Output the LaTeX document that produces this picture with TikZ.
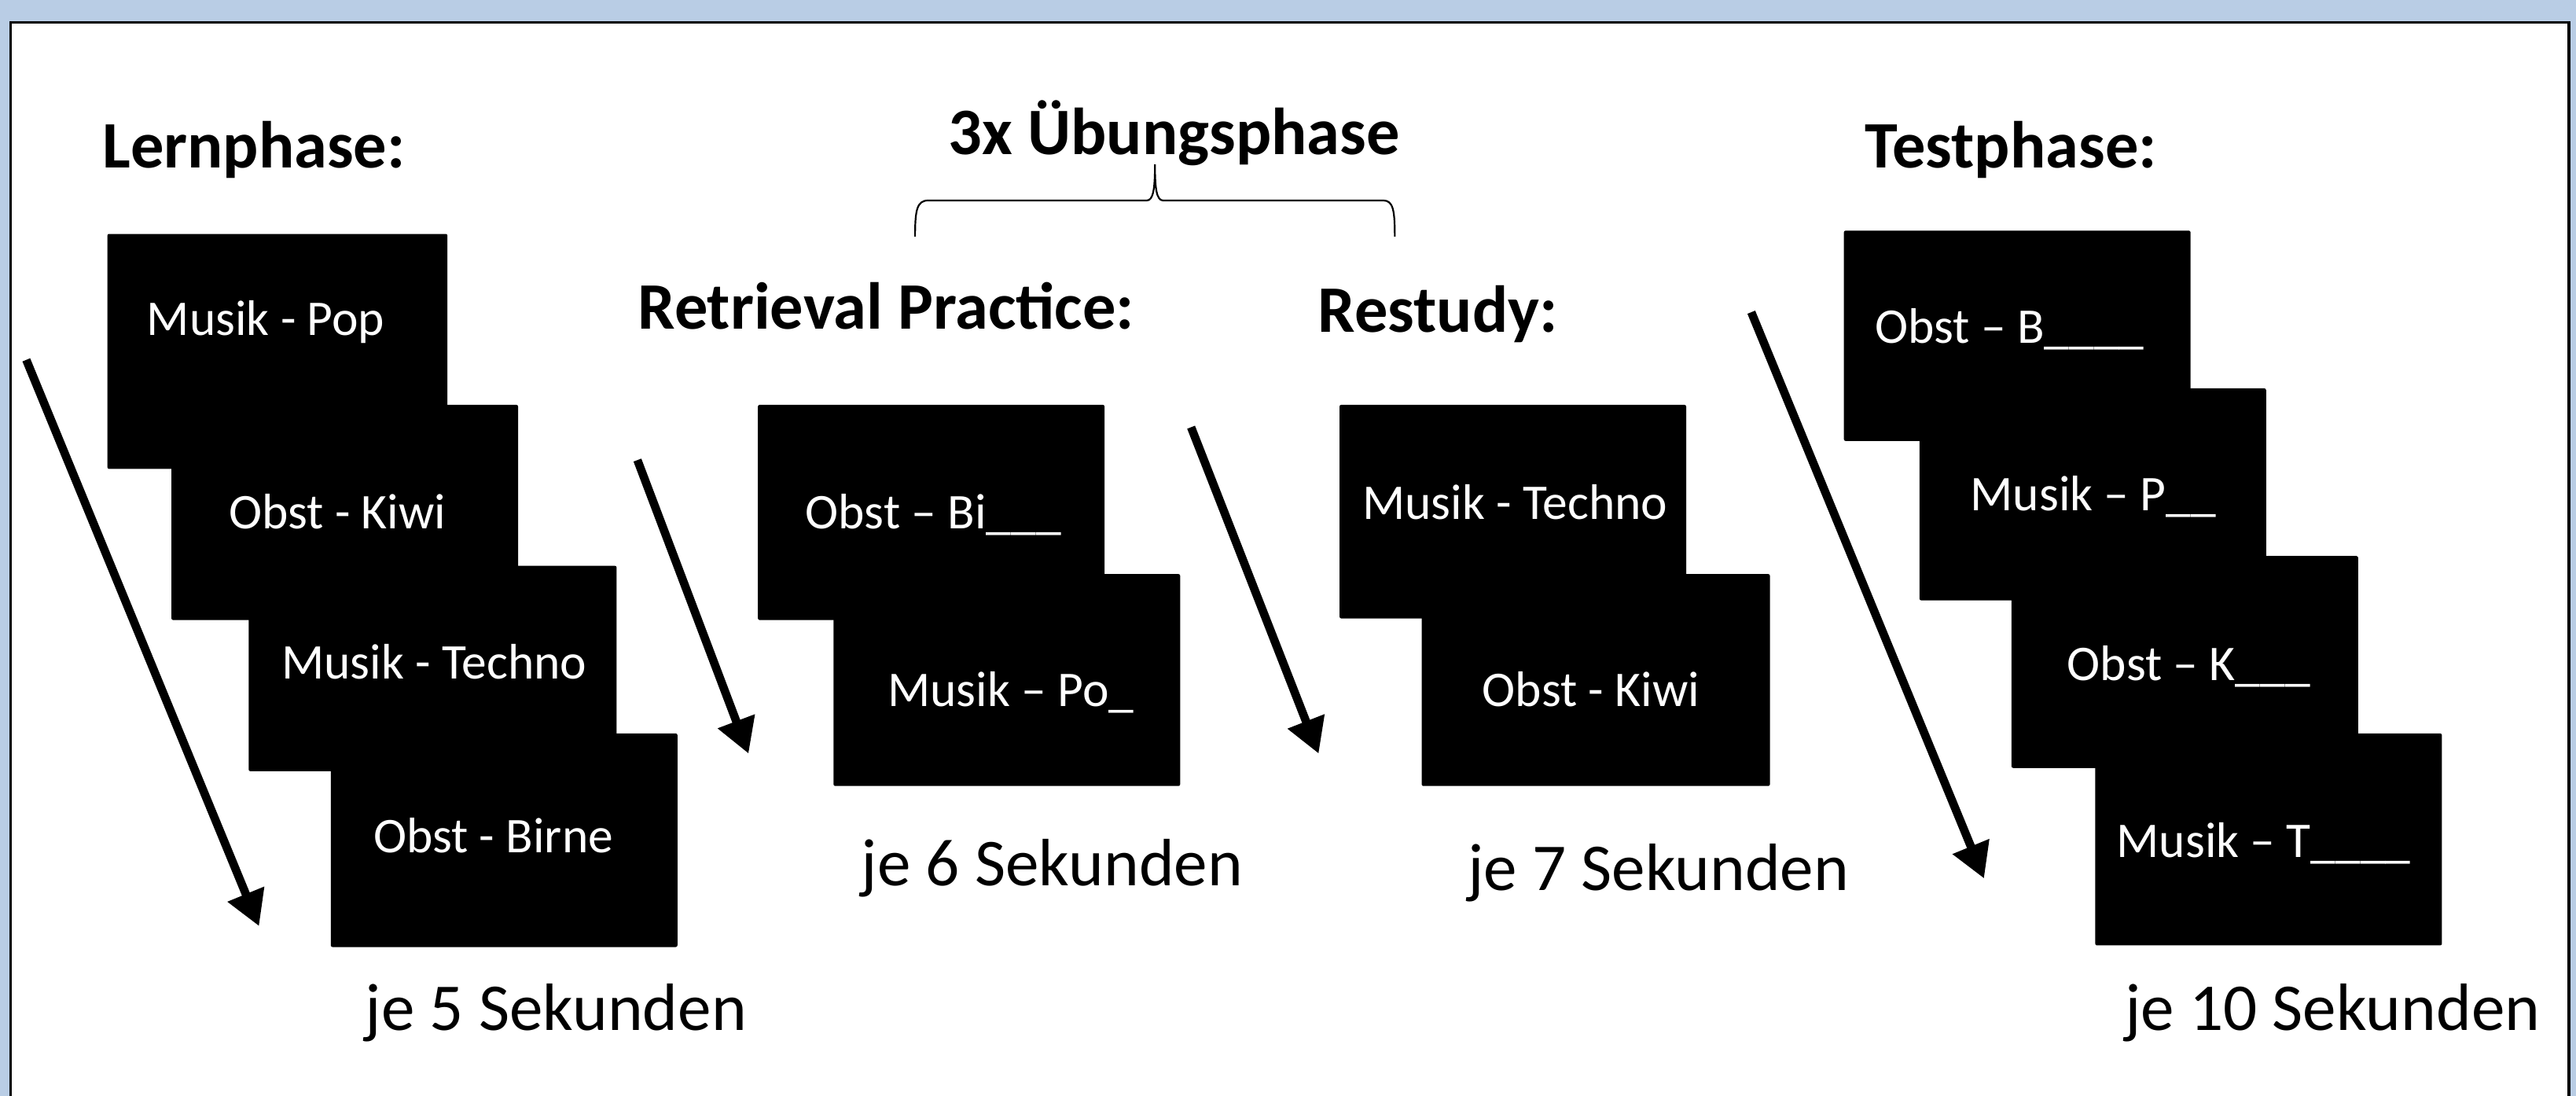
\documentclass[tikz,border=0pt]{standalone}
\usepackage{fontspec}
\setmainfont{Carlito}
\usetikzlibrary{arrows.meta}
\definecolor{bgblue}{HTML}{B9CDE5}
\tikzset{
  slidebox/.style={fill=black, draw=none, rounded corners=0.6pt, inner sep=0, anchor=north west},
  slidetext/.style={text=white, font=\fontsize{17.3}{19}\selectfont, inner sep=0, anchor=base west},
  headtext/.style={font=\fontsize{23.0}{26}\selectfont\bfseries, inner sep=0, anchor=base west},
  timetext/.style={font=\fontsize{23.2}{26}\selectfont, inner sep=0, anchor=base west},
  timearrow/.style={line width=2.9pt, -{Triangle[length=12pt, width=13pt]}, shorten >=-1pt},
}
\newcommand{\slide}[5]{\node[slidebox, minimum width={(#3-#1)*0.02cm}, minimum height={(#4-#2)*0.02cm}] (#5) at (#1,#2) {};}
\begin{document}
\begin{tikzpicture}[x=0.02cm, y=-0.02cm]
\useasboundingbox (0,0) rectangle (1568,667);
\clip (0,0) rectangle (1568,667);
\fill[bgblue] (0,0) rectangle (1568,667);
\filldraw[fill=white, draw=black, line width=0.9pt] (6.5,680) -- (6.5,13.5) -- (1563.7,13.5) -- (1563.7,680);

% headers
\node[headtext] (hlern) at (62,102) {Lernphase:};
\node[headtext] (huebung) at (577,94) {3x Übungsphase};
\node[headtext] (htest) at (1135,102) {Testphase:};
\node[headtext] (hretr) at (388,200) {Retrieval Practice:};
\node[headtext] (hrest) at (802,202) {Restudy:};

% brace
\draw[line width=0.6pt] (557,144) .. controls (557,128) and (558,122) .. (565,122) -- (698,122)
  .. controls (702,122) and (703,115) .. (703,100)
  .. controls (703,115) and (704,122) .. (708,122) -- (842,122)
  .. controls (848,122) and (849,128) .. (849,144);

% Lernphase
\slide{65}{142}{272}{285}{l1}
\node[slidetext] (tl1) at (89,204) {Musik - Pop};
\slide{104}{246}{315}{377}{l2}
\node[slidetext] (tl2) at (139,322) {Obst - Kiwi};
\slide{151}{344}{375}{469}{l3}
\node[slidetext] (tl3) at (171,413) {Musik - Techno};
\slide{201}{446}{412}{576}{l4}
\node[slidetext] (tl4) at (227,519) {Obst - Birne};

% Retrieval
\slide{461}{246}{672}{377}{r1}
\node[slidetext] (tr1) at (490,322) {Obst – Bi\_\_\_};
\slide{507}{349}{718}{478}{r2}
\node[slidetext] (tr2) at (540,430) {Musik – Po\_};

% Restudy
\slide{815}{246}{1026}{376}{s1}
\node[slidetext] (ts1) at (829,316) {Musik - Techno};
\slide{865}{349}{1077}{478}{s2}
\node[slidetext] (ts2) at (902,430) {Obst - Kiwi};

% Test
\slide{1122}{140}{1333}{268}{t1}
\node[slidetext] (tt1) at (1141,209) {Obst – B\_\_\_\_};
\slide{1168}{236}{1379}{365}{t2}
\node[slidetext] (tt2) at (1199,311) {Musik – P\_\_};
\slide{1224}{338}{1435}{467}{t3}
\node[slidetext] (tt3) at (1258,414) {Obst – K\_\_\_};
\slide{1275}{446}{1486}{575}{t4}
\node[slidetext] (tt4) at (1288,522) {Musik – T\_\_\_\_};

% times
\node[timetext] (j5) at (222,627) {je 5 Sekunden};
\node[timetext] (j6) at (524,539) {je 6 Sekunden};
\node[timetext] (j7) at (893,542) {je 7 Sekunden};
\node[timetext] (j10) at (1293,627) {je 10 Sekunden};

% arrows
\coordinate (a1s) at (16,219); \coordinate (a1e) at (157,562);
\coordinate (a2s) at (388,280); \coordinate (a2e) at (455,457);
\coordinate (a3s) at (725,260); \coordinate (a3e) at (802,457);
\coordinate (a4s) at (1066,190); \coordinate (a4e) at (1207,533);
\draw[timearrow] (a1s) -- (a1e);
\draw[timearrow] (a2s) -- (a2e);
\draw[timearrow] (a3s) -- (a3e);
\draw[timearrow] (a4s) -- (a4e);
\end{tikzpicture}
\end{document}
